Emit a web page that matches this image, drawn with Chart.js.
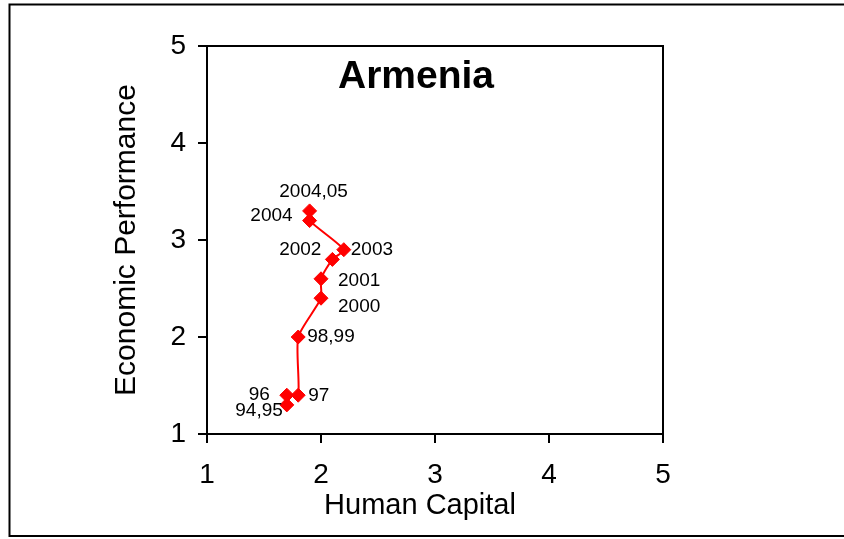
<!DOCTYPE html>
<html lang="en">
<head>
    <meta charset="UTF-8">
    <title>Armenia - Human Capital vs Economic Performance</title>
    <script src="https://cdn.jsdelivr.net/npm/chart.js"></script>
    <style>
        html, body { margin: 0; padding: 0; background: #fff; }
        #wrap { width: 844px; height: 539px; position: relative; }
    </style>
</head>
<body>
<div id="wrap"><canvas id="armeniaChart"></canvas></div>
<script>
    // --- Data ---
    const pointLabels = ['94,95', '96', '97', '98,99', '2000', '2001', '2002', '2003', '2004', '2004,05'];
    const humanCapital = [1.7, 1.7, 1.8, 1.8, 2.0, 2.0, 2.1, 2.2, 1.9, 1.9];
    const econPerformance = [1.3, 1.4, 1.4, 2.0, 2.4, 2.6, 2.8, 2.9, 3.2, 3.3];
    const tickValues = [1, 2, 3, 4, 5];

    // where each year label sits next to its point: [align, dx, dy]
    const labelPlacement = [
        ['right', -4, 6], ['right', -17, 0], ['left', 10, 1], ['left', 9, 0],
        ['left', 17, 9], ['left', 17, 2], ['right', -11, -10], ['left', 7, 0],
        ['right', -17, -5], ['center', 4, -19]
    ];

    const FONT = "'Liberation Sans', Arial, sans-serif";
    const points = humanCapital.map((x, i) => ({ x: x, y: econPerformance[i] }));

    // outer border, plot frame, titles and year labels
    const decorations = {
        id: 'decorations',
        beforeDraw(chart) {
            const c = chart.ctx;
            c.save();
            c.fillStyle = '#fff';
            c.fillRect(0, 0, chart.width, chart.height);
            c.strokeStyle = '#000';
            c.lineWidth = 2;
            c.strokeRect(9.5, 4.5, 900, 531.5);
            c.restore();
        },
        afterDatasetsDraw(chart) {
            const c = chart.ctx;
            const a = chart.chartArea;
            c.save();
            c.strokeStyle = '#000';
            c.lineWidth = 2;
            c.strokeRect(a.left, a.top, a.right - a.left, a.bottom - a.top);

            c.fillStyle = '#000';
            c.textAlign = 'center';
            c.textBaseline = 'middle';
            c.font = 'bold 39px ' + FONT;
            c.fillText('Armenia', 416, 77);

            // x axis title sits a bit left of the plot centre, as in the original
            c.font = '29px ' + FONT;
            c.fillText('Human Capital', 420, 506);

            c.font = '19px ' + FONT;
            const meta = chart.getDatasetMeta(0);
            meta.data.forEach((pt, i) => {
                const [align, dx, dy] = labelPlacement[i];
                c.textAlign = align;
                c.fillText(pointLabels[i], pt.x + dx, pt.y + dy);
            });
            c.restore();
        }
    };

    new Chart(document.getElementById('armeniaChart'), {
        type: 'scatter',
        data: {
            datasets: [{
                data: points,
                showLine: true,
                borderColor: '#ff0000',
                borderWidth: 2,
                tension: 0.2,
                pointStyle: 'rectRot',
                pointRadius: 7,
                pointBackgroundColor: '#ff0000',
                pointBorderColor: '#ff0000',
                pointBorderWidth: 1
            }]
        },
        options: {
            responsive: true,
            maintainAspectRatio: false,
            animation: false,
            layout: { padding: { left: 0, top: 46, right: 181, bottom: 0 } },
            plugins: {
                legend: { display: false },
                tooltip: { enabled: false }
            },
            scales: {
                x: {
                    type: 'linear',
                    min: 1, max: 5,
                    afterFit(scale) { scale.height = 105; },
                    afterBuildTicks(scale) { scale.ticks = tickValues.map(v => ({ value: v })); },
                    grid: { display: true, drawOnChartArea: false, drawTicks: true, tickLength: 9, color: '#000', lineWidth: 2 },
                    border: { display: true, color: '#000', width: 2 },
                    ticks: { color: '#000', padding: 15, maxRotation: 0, font: { family: FONT, size: 28 } },
                    title: { display: false }
                },
                y: {
                    type: 'linear',
                    min: 1, max: 5,
                    afterFit(scale) { scale.width = 207; },
                    afterBuildTicks(scale) { scale.ticks = tickValues.map(v => ({ value: v })); },
                    grid: { display: true, drawOnChartArea: false, drawTicks: true, tickLength: 9, color: '#000', lineWidth: 2 },
                    border: { display: true, color: '#000', width: 2 },
                    ticks: { color: '#000', padding: 12, font: { family: FONT, size: 28 } },
                    title: { display: true, text: 'Economic Performance', color: '#000', font: { family: FONT, size: 30 }, padding: { top: 109, bottom: 0 } }
                }
            }
        },
        plugins: [decorations]
    });
</script>
</body>
</html>
